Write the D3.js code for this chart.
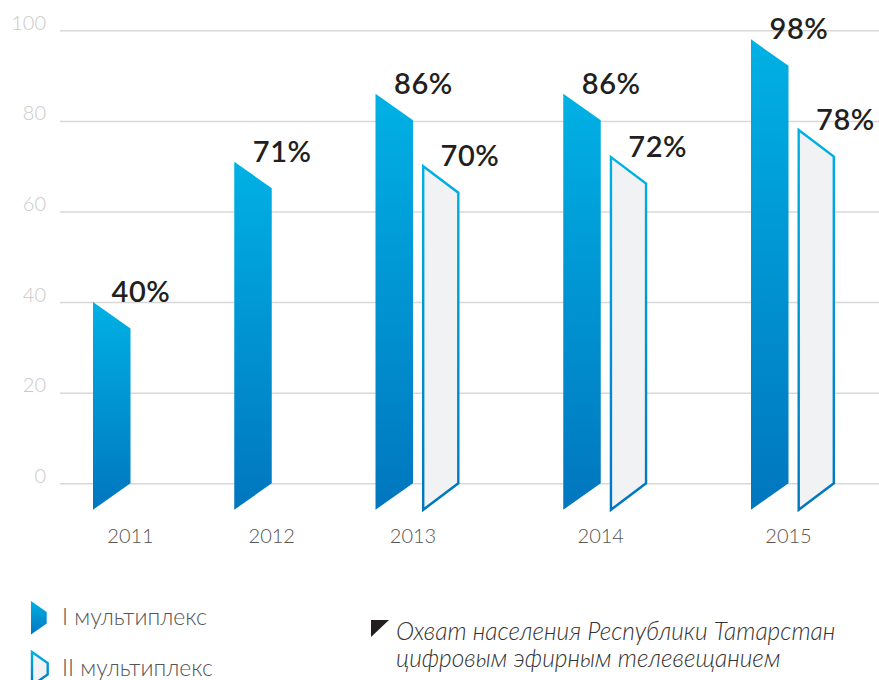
<!DOCTYPE html>
<html>
<head>
<meta charset="utf-8">
<script src="https://cdn.jsdelivr.net/npm/d3@7"></script>
<style>
  body { margin: 0; background: #fff; }
  svg { display: block; font-family: Lato, "Open Sans", sans-serif; }
</style>
</head>
<body>
<script>
// chart size
const width = 879;
const height = 680;

// data
const years = ["2011", "2012", "2013", "2014", "2015"];
const mux1 = [40, 71, 86, 86, 98];
const mux2 = [null, null, 70, 72, 78];
const yTicks = [0, 20, 40, 60, 80, 100];
const seriesNames = ["I мультиплекс", "II мультиплекс"];
const noteLines = ["Охват населения Республики Татарстан", "цифровым эфирным телевещанием"];

const svg = d3.select("body").append("svg")
    .attr("width", width).attr("height", height);

// blue gradient for bars
const defs = svg.append("defs");
const grad = defs.append("linearGradient").attr("id", "blue")
    .attr("x1", 0).attr("y1", 0).attr("x2", 0).attr("y2", 1);
grad.append("stop").attr("offset", "0%").attr("stop-color", "#00b1e4");
grad.append("stop").attr("offset", "100%").attr("stop-color", "#0076bf");

const y = d3.scaleLinear().domain([0, 100]).range([483.3, 30.3]);

// y axis + gridlines
const yAxis = svg.append("g")
    .attr("transform", "translate(60,0)")
    .call(d3.axisLeft(y).tickValues(yTicks).tickSize(-(width - 60)).tickPadding(14));
yAxis.select(".domain").remove();
yAxis.selectAll(".tick line").attr("stroke", "#d8d8d8").attr("stroke-width", 1.5);
yAxis.selectAll(".tick text")
    .attr("dy", "-1")
    .attr("fill", "#c9c9c9")
    .style("font-size", "20px").style("font-weight", 300)
    .style("font-family", "Lato, sans-serif");

// layout: groups placed one after another, group width depends on bar count
const barW = 37.5, innerGap = 9, groupGap = 103.75;
const slant = barW * 0.707;
let cursor = 0;
const groups = years.map((yr, i) => {
    const bars = [mux1[i], mux2[i]]
        .map((v, s) => ({ v: v, s: s }))
        .filter(d => d.v != null);
    const g = { year: yr, start: cursor, bars: bars };
    cursor += bars.length * barW + (bars.length - 1) * innerGap + groupGap;
    return g;
});
const total = cursor - groupGap;
const x = d3.scaleLinear().domain([0, total]).range([93, 835]);

const bars = [];
groups.forEach(g => {
    g.bars.forEach((b, k) => {
        bars.push({ year: g.year, v: b.v, s: b.s, x0: g.start + k * (barW + innerGap) });
    });
});

function barPath(d) {
    const inset = d.s === 1 ? 1.2 : 0;
    const x0 = x(d.x0) + inset, x1 = x(d.x0 + barW) - inset;
    const yt = y(d.v), yb = y(0);
    return `M${x0},${yt} L${x1},${yt + slant} L${x1},${yb} L${x0},${yb + slant} Z`;
}

svg.append("g").selectAll("path")
    .data(bars).enter().append("path")
    .attr("d", barPath)
    .attr("fill", d => d.s === 0 ? "url(#blue)" : "#f1f2f4")
    .attr("stroke", d => d.s === 0 ? "none" : "url(#blue)")
    .attr("stroke-width", 2.4)
    .attr("stroke-linejoin", "miter");

// value labels
svg.append("g").selectAll("text")
    .data(bars).enter().append("text")
    .attr("x", d => x(d.x0) + 18.5)
    .attr("y", d => y(d.v))
    .attr("fill", "#231f20")
    .style("font-size", "29px").style("font-weight", 600)
    .style("letter-spacing", "0.6px")
    .text(d => d.v + "%");

// year labels
svg.append("g").selectAll("text")
    .data(groups).enter().append("text")
    .attr("x", d => x(d.start + barW))
    .attr("y", 543)
    .attr("text-anchor", "middle")
    .attr("fill", "#555")
    .style("font-size", "20px").style("font-weight", 300)
    .text(d => d.year);

// legend
const legend = svg.append("g");
seriesNames.forEach((name, i) => {
    const ly = 601 + i * 51;
    legend.append("path")
        .attr("d", `M31,${ly} L46.7,${ly + 11} L46.7,${ly + 22.5} L31,${ly + 33.5} Z`)
        .attr("fill", i === 0 ? "url(#blue)" : "#f1f2f4")
        .attr("stroke", i === 0 ? "none" : "url(#blue)")
        .attr("stroke-width", 2.4)
        .attr("transform", i === 0 ? null : "translate(1,0)");
    legend.append("text")
        .attr("x", 62).attr("y", ly + 23.5)
        .attr("fill", "#555")
        .style("font-size", "23px").style("font-weight", 300)
        .text(name);
});

// note
svg.append("path")
    .attr("d", "M371,620 L389,620 L371,637 Z")
    .attr("fill", "#231f20");
svg.append("g").selectAll("text")
    .data(noteLines).enter().append("text")
    .attr("x", 396)
    .attr("y", (d, i) => 639.5 + i * 27)
    .attr("fill", "#333")
    .style("font-size", "24.5px").style("font-style", "italic").style("font-weight", 300)
    .text(d => d);
</script>
</body>
</html>
